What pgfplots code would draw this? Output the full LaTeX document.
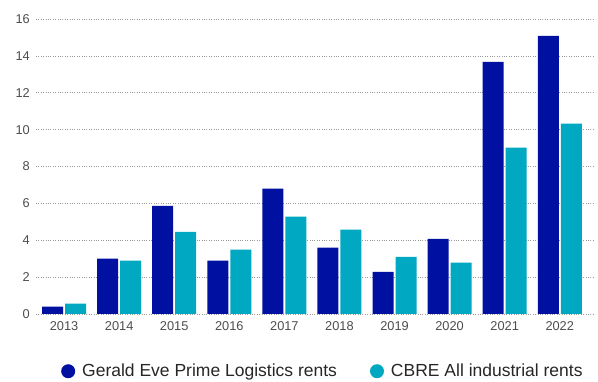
\documentclass[border=0pt]{standalone}
\usepackage{pgfplots}
\pgfplotsset{compat=1.18}
\usepackage{fontspec}
\setmainfont{Liberation Sans}
\definecolor{gblue}{RGB}{0,16,160}
\definecolor{gcyan}{RGB}{0,168,194}
\definecolor{tickgray}{RGB}{77,77,77}
\begin{document}
\begin{tikzpicture}
\begin{axis}[
  scale only axis,
  width=559pt, height=295pt,
  xmin=-0.51, xmax=9.64,
  ymin=0, ymax=16,
  ytick={0,2,...,16},
  xtick={0,...,9},
  xticklabels={2013,2014,2015,2016,2017,2018,2019,2020,2021,2022},
  axis line style={draw=none},
  major tick length=0pt,
  ymajorgrids,
  major grid style={dotted, gray!80, line width=0.6pt},
  /pgf/number format/assume math mode=true,
  ticklabel style={font=\fontsize{12.8}{14}\selectfont, text=tickgray, inner sep=0pt},
  yticklabel style={xshift=-6pt},
  xticklabel style={yshift=-7.5pt},
  clip=false,
  legend style={draw=none, fill=none, at={(0.0447,-0.194)}, anchor=west,
    font=\fontsize{17.5}{20}\selectfont, text=black!85, inner sep=0pt,
    nodes={inner sep=0pt},
    /tikz/every odd column/.append style={column sep=7pt},
    /tikz/every even column/.append style={column sep=33pt}},
  legend columns=2,
  legend image code/.code={\fill (7pt,0) circle (7pt);},
]
\addplot[ybar, bar width=21pt, bar shift=-11.5pt, fill=gblue, draw=none]
  coordinates {(0,0.40) (1,3.00) (2,5.87) (3,2.89) (4,6.80) (5,3.60) (6,2.29) (7,4.08) (8,13.68) (9,15.09)};
\addlegendentry{Gerald Eve Prime Logistics rents}
\addplot[ybar, bar width=21pt, bar shift=11.5pt, fill=gcyan, draw=none]
  coordinates {(0,0.56) (1,2.89) (2,4.46) (3,3.49) (4,5.28) (5,4.57) (6,3.10) (7,2.78) (8,9.02) (9,10.32)};
\addlegendentry{CBRE All industrial rents}
\end{axis}
\path (-36pt,-68pt) rectangle (562pt,314pt);
\end{tikzpicture}
\end{document}
